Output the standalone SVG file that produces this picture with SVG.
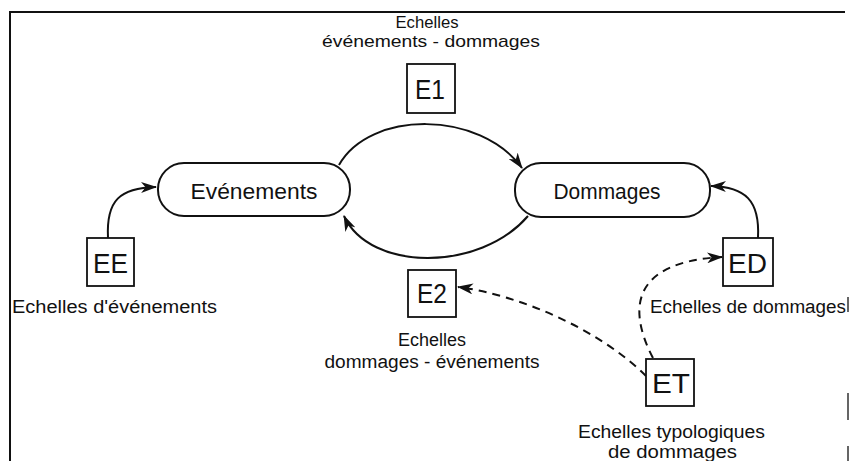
<svg xmlns="http://www.w3.org/2000/svg" width="850" height="461" viewBox="0 0 850 461">
<defs>
<style>
.frame{fill:none;stroke:#111;stroke-width:2}
.pill{fill:#fff;stroke:#111;stroke-width:2}
.box{fill:#fff;stroke:#111;stroke-width:1.8}
.lbl{font-family:"Liberation Sans",Arial,sans-serif;font-size:18px;fill:#111}
.node{font-family:"Liberation Sans",Arial,sans-serif;font-size:22px;fill:#111;text-anchor:middle}
.code{font-family:"Liberation Sans",Arial,sans-serif;font-size:28px;fill:#111;text-anchor:middle}
.solid{fill:none;stroke:#111;stroke-width:2;marker-end:url(#arr)}
.dash{fill:none;stroke:#111;stroke-width:2;stroke-dasharray:8 6;marker-end:url(#arr)}
</style>
<marker id="arr" viewBox="0 0 16 11" refX="15" refY="5.5" markerWidth="16" markerHeight="11" markerUnits="userSpaceOnUse" orient="auto">
<path d="M0,0 L16,5.5 L0,11 L4.5,5.5 Z" fill="#111"/>
</marker>
</defs>
<rect width="850" height="461" fill="#fff"/>
<g id="frame">
<path class="frame" d="M10,461 L10,12 L845,12"/>
<path d="M848,297 L848,312 M848,393 L848,420 M848,446 L848,461" fill="none" stroke="#333" stroke-width="1.5"/>
</g>
<g id="connectors">
<path class="solid" d="M339,165 C370,110 480,110 522,168"/>
<path class="solid" d="M528,216 C480,272 370,272 344,216"/>
<path class="solid" d="M108,238 C106,200 120,188 156,187"/>
<path class="solid" d="M758,238 C760,200 745,187 711,186"/>
<path class="dash" d="M646,376 C600,330 520,295 458,287"/>
<path class="dash" d="M653,358 C628,310 630,262 722,257"/>
</g>
<g id="evenements">
<rect class="pill" x="158" y="163" width="192" height="53" rx="26"/>
<text class="node" x="254" y="199" textLength="127" lengthAdjust="spacingAndGlyphs">Evénements</text>
</g>
<g id="dommages">
<rect class="pill" x="515" y="163" width="195" height="54" rx="26"/>
<text class="node" x="607" y="199" textLength="107" lengthAdjust="spacingAndGlyphs">Dommages</text>
</g>
<g id="E1">
<rect class="box" x="407" y="64" width="48" height="49"/>
<text class="code" x="430" y="99" textLength="30" lengthAdjust="spacingAndGlyphs">E1</text>
<text class="lbl" x="427" y="28" text-anchor="middle" textLength="63" lengthAdjust="spacingAndGlyphs" style="font-size:17px">Echelles</text>
<text class="lbl" x="431" y="47" text-anchor="middle" textLength="218" lengthAdjust="spacingAndGlyphs" style="font-size:17px">événements - dommages</text>
</g>
<g id="E2">
<rect class="box" x="408" y="270" width="48" height="47"/>
<text class="code" x="432" y="303" textLength="30" lengthAdjust="spacingAndGlyphs">E2</text>
<text class="lbl" x="432" y="346" text-anchor="middle" textLength="68" lengthAdjust="spacingAndGlyphs">Echelles</text>
<text class="lbl" x="432" y="368" text-anchor="middle" textLength="215" lengthAdjust="spacingAndGlyphs">dommages - événements</text>
</g>
<g id="EE">
<rect class="box" x="87" y="238" width="47" height="48"/>
<text class="code" x="110.5" y="273" textLength="35" lengthAdjust="spacingAndGlyphs">EE</text>
<text class="lbl" x="12" y="313" textLength="205" lengthAdjust="spacingAndGlyphs">Echelles d'événements</text>
</g>
<g id="ED">
<rect class="box" x="723" y="238" width="50" height="48"/>
<text class="code" x="747.5" y="273" textLength="39" lengthAdjust="spacingAndGlyphs">ED</text>
<text class="lbl" x="650" y="313" textLength="196" lengthAdjust="spacingAndGlyphs">Echelles de dommages</text>
</g>
<g id="ET">
<rect class="box" x="646" y="359" width="48" height="47"/>
<text class="code" x="671" y="393" textLength="38" lengthAdjust="spacingAndGlyphs">ET</text>
<text class="lbl" x="671.5" y="438" text-anchor="middle" textLength="187" lengthAdjust="spacingAndGlyphs">Echelles typologiques</text>
<text class="lbl" x="672.5" y="458" text-anchor="middle" textLength="129" lengthAdjust="spacingAndGlyphs">de dommages</text>
</g>
</svg>
